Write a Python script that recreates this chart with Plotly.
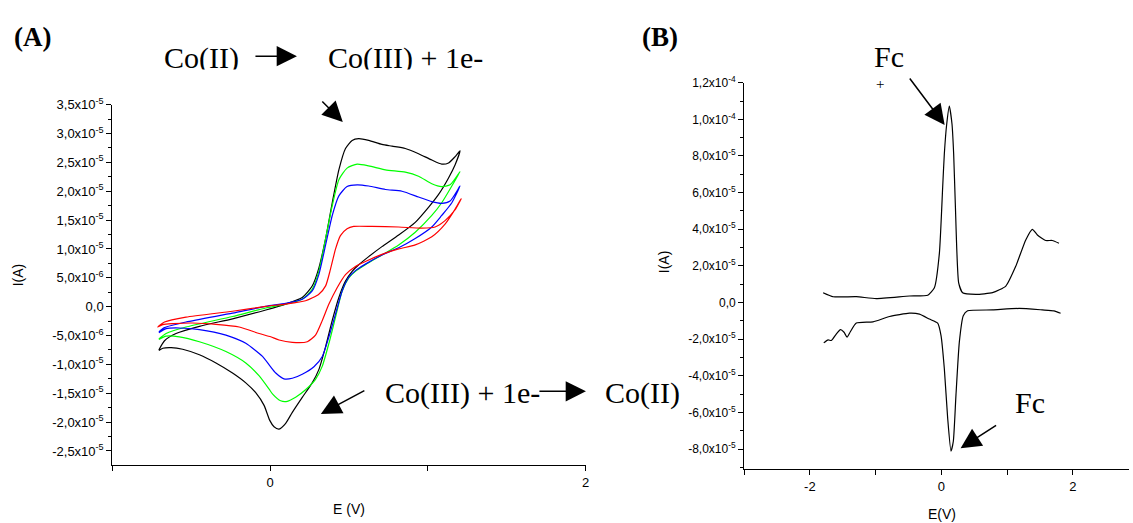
import plotly.graph_objects as go

W, H = 1133, 523

# ---------------- data: panel A (cyclic voltammograms), E in V, I in 1e-6 A
black_E = [-0.705, -0.669, -0.596, -0.448, -0.238, -0.027, 0.099, 0.204, 0.267, 0.309, 0.352, 0.394, 0.436, 0.478,
           0.520, 0.562, 0.625, 0.709, 0.773, 0.857, 0.941, 1.025, 1.088, 1.131, 1.173, 1.204,
           1.173, 1.131, 1.067, 1.004, 0.920, 0.815, 0.709, 0.625, 0.562, 0.520, 0.478, 0.436, 0.394, 0.352,
           0.309, 0.267, 0.204, 0.141, 0.099, 0.057, 0.025, -0.002, -0.038, -0.091, -0.154, -0.238, -0.343,
           -0.448, -0.554, -0.627, -0.680, -0.705]
black_I = [-7.5, -5.9, -4.65, -3.40, -2.10, -0.57, 0.45, 1.59, 3.57, 6.69, 11.8, 18.0, 23.7, 27.4,
           28.8, 29.1, 28.8, 28.1, 27.8, 27.4, 26.5, 25.4, 24.7, 24.9, 26.0, 27.0,
           24.6, 22.3, 19.4, 17.2, 14.6, 12.4, 10.4, 8.67, 7.26, 6.12, 4.42, 1.59, -2.38, -6.92,
           -10.9, -13.2, -15.7, -18.3, -20.2, -21.2, -20.8, -19.7, -17.1, -14.9, -13.2, -11.5, -9.75,
           -8.33, -7.37, -7.09, -7.2, -7.6]

green_E = [-0.705, -0.659, -0.533, -0.238, -0.027, 0.099, 0.204, 0.267, 0.309, 0.352, 0.394, 0.436, 0.488,
           0.552, 0.625, 0.731, 0.857, 0.941, 1.025, 1.088, 1.141, 1.204,
           1.152, 1.088, 1.025, 0.920, 0.815, 0.709, 0.604, 0.541, 0.499, 0.457, 0.415, 0.373, 0.331, 0.288,
           0.225, 0.162, 0.109, 0.067, 0.015, -0.006, -0.069, -0.154, -0.280, -0.448, -0.575, -0.659, -0.705]
green_I = [-5.61, -4.65, -3.52, -1.70, -0.23, 0.45, 1.30, 3.0, 6.12, 11.8, 17.5, 22.0, 24.0,
           24.7, 24.4, 23.7, 23.3, 22.6, 21.3, 20.8, 21.1, 23.4,
           20.9, 18.0, 15.8, 12.9, 10.7, 8.96, 7.26, 6.12, 4.99, 2.72, -1.81, -6.35, -10.3, -12.6,
           -14.4, -15.7, -16.4, -16.3, -15.1, -14.3, -12.0, -9.75, -7.77, -6.07, -5.22, -5.10, -5.67]

blue_E = [-0.705, -0.669, -0.533, -0.238, -0.027, 0.099, 0.204, 0.267, 0.309, 0.352, 0.394, 0.436, 0.488,
          0.552, 0.625, 0.731, 0.836, 0.941, 1.025, 1.088, 1.141, 1.204,
          1.152, 1.088, 1.025, 0.920, 0.815, 0.709, 0.604, 0.541, 0.499, 0.457, 0.415, 0.373, 0.331, 0.278,
          0.204, 0.141, 0.088, 0.036, 0.0, -0.048, -0.154, -0.280, -0.448, -0.575, -0.659, -0.705]
blue_I = [-4.37, -3.63, -2.66, -1.13, 0.06, 0.57, 1.30, 2.72, 5.56, 10.7, 15.8, 19.2, 20.8,
          21.1, 20.9, 20.3, 20.0, 19.0, 18.2, 17.9, 18.3, 20.9,
          18.0, 15.8, 13.8, 11.8, 10.2, 8.96, 7.37, 6.24, 5.10, 2.72, -1.25, -5.22, -8.62, -10.4,
          -11.7, -12.4, -12.5, -11.5, -10.3, -8.62, -6.35, -4.93, -3.97, -3.69, -3.80, -4.54]

red_E = [-0.712, -0.669, -0.533, -0.238, -0.027, 0.099, 0.225, 0.309, 0.352, 0.383, 0.415, 0.446, 0.488,
         0.530, 0.646, 0.815, 0.962, 1.046, 1.109, 1.173, 1.211,
         1.173, 1.109, 1.025, 0.920, 0.815, 0.709, 0.604, 0.541, 0.478, 0.425, 0.373, 0.331, 0.288, 0.236,
         0.141, 0.057, 0.004, -0.069, -0.196, -0.343, -0.491, -0.617, -0.680, -0.712]
red_I = [-3.52, -2.66, -1.81, -0.79, 0.06, 0.45, 1.02, 2.15, 3.6, 6.5, 10.0, 12.3, 13.5,
         13.9, 13.9, 13.8, 13.6, 13.8, 14.9, 16.8, 18.7,
         16.9, 14.3, 12.1, 10.7, 10.0, 9.07, 7.82, 6.97, 5.56, 3.29, 0.45, -2.38, -4.93, -6.07,
         -6.18, -5.78, -5.22, -4.65, -3.52, -3.06, -2.83, -2.95, -3.12, -3.52]

# ---------------- data: panel B (ferrocene), E in V, I in 1e-5 A
fc_fwd_E = [-1.798, -1.646, -1.293, -0.990, -0.485, -0.207, -0.106, -0.030, 0.020, 0.045, 0.081, 0.121,
            0.162, 0.187, 0.212, 0.263, 0.323, 0.525, 0.778, 0.980, 1.131, 1.283, 1.384, 1.460, 1.586,
            1.687, 1.788]
fc_fwd_I = [0.54, 0.32, 0.32, 0.22, 0.36, 0.40, 0.81, 2.70, 6.31, 8.11, 9.73, 10.72,
            9.73, 8.11, 5.41, 1.08, 0.54, 0.45, 0.54, 0.90, 1.98, 3.42, 4.0, 3.69, 3.39,
            3.39, 3.24]
fc_rev_E = [-1.788, -1.722, -1.672, -1.596, -1.535, -1.480, -1.434, -1.384, -1.293, -1.040, -0.788, -0.485,
            -0.333, -0.182, -0.056, -0.005, 0.045, 0.096, 0.146, 0.182, 0.222, 0.273, 0.333, 0.399, 0.778,
            1.182, 1.535, 1.712, 1.813]
fc_rev_I = [-2.20, -2.04, -2.07, -1.71, -1.48, -1.62, -1.89, -1.59, -1.12, -1.05, -0.76, -0.58,
            -0.63, -0.90, -1.12, -1.80, -3.60, -6.31, -8.11, -7.57, -5.05, -2.16, -0.72, -0.45, -0.40,
            -0.32, -0.40, -0.45, -0.58]

# ---------------- tick labels
a_yvals = [3.5e-5, 3.0e-5, 2.5e-5, 2.0e-5, 1.5e-5, 1.0e-5, 5.0e-6, 0.0, -5.0e-6, -1.0e-5, -1.5e-5, -2.0e-5, -2.5e-5]
a_ytext = ["3,5x10<sup>-5</sup>", "3,0x10<sup>-5</sup>", "2,5x10<sup>-5</sup>", "2,0x10<sup>-5</sup>",
           "1,5x10<sup>-5</sup>", "1,0x10<sup>-5</sup>", "5,0x10<sup>-6</sup>", "0,0",
           "-5,0x10<sup>-6</sup>", "-1,0x10<sup>-5</sup>", "-1,5x10<sup>-5</sup>", "-2,0x10<sup>-5</sup>",
           "-2,5x10<sup>-5</sup>"]
a_xvals = [-1, 0, 1, 2]
a_xtext = ["", "0", "", "2"]
b_yvals = [1.2e-4, 1.0e-4, 8.0e-5, 6.0e-5, 4.0e-5, 2.0e-5, 0.0, -2.0e-5, -4.0e-5, -6.0e-5, -8.0e-5]
b_ytext = ["1,2x10<sup>-4</sup>", "1,0x10<sup>-4</sup>", "8,0x10<sup>-5</sup>", "6,0x10<sup>-5</sup>",
           "4,0x10<sup>-5</sup>", "2,0x10<sup>-5</sup>", "0,0", "-2,0x10<sup>-5</sup>",
           "-4,0x10<sup>-5</sup>", "-6,0x10<sup>-5</sup>", "-8,0x10<sup>-5</sup>"]
b_xvals = [-3, -2, -1, 0, 1, 2, 3]
b_xtext = ["", "-2", "", "0", "", "2", ""]

fig = go.Figure()

for E, I, col in [(black_E, black_I, "#000000"), (green_E, green_I, "#00ff00"),
                  (blue_E, blue_I, "#0000ff"), (red_E, red_I, "#ff0000")]:
    fig.add_trace(go.Scatter(x=E, y=[v * 1e-6 for v in I], mode="lines",
                             line=dict(color=col, width=1.2, shape="spline", smoothing=0.6),
                             xaxis="x", yaxis="y", showlegend=False, hoverinfo="skip"))

for E, I in [(fc_fwd_E, fc_fwd_I), (fc_rev_E, fc_rev_I)]:
    fig.add_trace(go.Scatter(x=E, y=[v * 1e-5 for v in I], mode="lines",
                             line=dict(color="#000000", width=1.2, shape="spline", smoothing=0.5),
                             xaxis="x2", yaxis="y2", showlegend=False, hoverinfo="skip"))

def px(x):
    return x / W

def py(y):
    return 1 - y / H

tickfont = dict(family="Liberation Sans, Arial, sans-serif", size=13, color="black")
narrowfont = dict(family="Liberation Sans Narrow, Arial Narrow, Liberation Sans, sans-serif",
                  size=12, color="black")

axis_common = dict(showline=True, linecolor="black", linewidth=1, ticks="outside", ticklen=5,
                   tickwidth=1, tickcolor="black", showgrid=False, zeroline=False, mirror=False,
                   tickmode="array")

a_ymin = -2.743e-5
b_ymin = -9.08e-5
a_yminor = [v * 1e-6 for v in [-22.5, -17.5, -12.5, -7.5, -2.5, 2.5, 7.5, 12.5, 17.5, 22.5, 27.5, 32.5]]
b_yminor = [v * 1e-5 for v in [-9, -7, -5, -3, -1, 1, 3, 5, 7, 9, 11]]

fig.update_layout(
    width=W, height=H, margin=dict(l=0, r=0, t=0, b=0),
    paper_bgcolor="white", plot_bgcolor="white", showlegend=False,
    xaxis=dict(domain=[px(112.7), px(587.7)], range=[-1.0, 2.0], tickvals=a_xvals, ticktext=a_xtext,
               tickfont=tickfont, anchor="y", **axis_common),
    yaxis=dict(domain=[py(464), py(97.3)], range=[a_ymin, 3.5e-5], tickvals=a_yvals, ticktext=a_ytext,
               tickfont=tickfont, anchor="x",
               minor=dict(tickmode="array", tickvals=a_yminor, ticks="outside", ticklen=3,
                          tickcolor="black", tickwidth=1),
               **axis_common),
    xaxis2=dict(domain=[px(746.7), 1.0], range=[-3.0, -3.0 + (W - 746.7) / 66.0], tickvals=b_xvals,
                ticktext=b_xtext, tickfont=tickfont, anchor="y2", **axis_common),
    yaxis2=dict(domain=[py(468), py(75)], range=[b_ymin, 1.2e-4], tickvals=b_yvals, ticktext=b_ytext,
                tickfont=narrowfont, anchor="x2",
                minor=dict(tickmode="array", tickvals=b_yminor, ticks="outside", ticklen=3,
                           tickcolor="black", tickwidth=1),
                **axis_common),
)

serif = "Liberation Serif, Times New Roman, serif"
sans = "Liberation Sans, Arial, sans-serif"
ann = []

def text(x, y, s, size, family=serif, bold=False, angle=0, bg=None, w=None, h=None):
    d = dict(x=px(x), y=py(y), xref="paper", yref="paper", text=("<b>%s</b>" % s) if bold else s,
             showarrow=False, xanchor="center", yanchor="middle", textangle=angle,
             font=dict(family=family, size=size, color="black"))
    if bg:
        d.update(bgcolor=bg, width=w, height=h, borderpad=0)
    ann.append(d)

def arrow(x0, y0, x1, y1, size=2.7):
    ann.append(dict(x=px(x1), y=py(y1), xref="paper", yref="paper", ax=x0 - x1, ay=y0 - y1,
                    axref="pixel", ayref="pixel", text="", showarrow=True, arrowhead=2,
                    arrowsize=size, arrowwidth=1.5, arrowcolor="black", standoff=0))

# panel labels
text(33, 28, "(A)", 27, bold=True)
text(662, 28, "(B)", 27, bold=True)

# top reaction (clipped at bottom in the original)
text(202.5, 49.5, "Co(II)", 30)
text(407, 49.5, "Co(III) + 1e-", 30)
text(330, 69, " ", 10, bg="white", w=360, h=14)
arrow(255, 48, 298, 48)
arrow(322, 93, 344, 115)

# bottom reaction
text(464, 390.5, "Co(III) + 1e-", 30)
text(644.5, 390.5, "Co(II)", 30)
arrow(540, 389, 588, 389)
arrow(367, 388, 322, 412)

# ferrocene labels
text(892, 48, "Fc", 30)
text(883, 76, "+", 15)
arrow(912, 70, 948, 118)
text(1034, 400.5, "Fc", 30)
arrow(1001, 423, 964, 447)

# axis titles
text(18, 270, "I(A)", 14, family=sans, angle=-90)
text(666, 257, "I(A)", 14, family=sans, angle=-90)
text(350, 509, "E (V)", 14, family=sans)
text(945, 514, "E(V)", 14, family=sans)

fig.update_layout(annotations=ann)

fig.write_html("out.html")
